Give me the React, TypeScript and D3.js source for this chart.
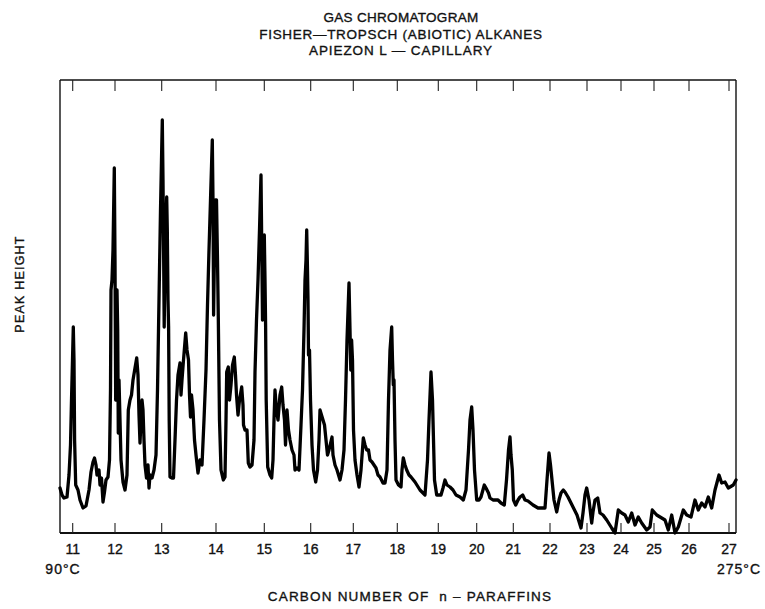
import React from "react";
import * as d3 from "d3";

// Chromatogram trace: retention time (min) vs detector peak height (arbitrary units)
const retentionMin: number[] = [
  0.0, 0.2, 0.4, 0.7, 0.9, 1.05, 1.15, 1.25, 1.33, 1.4, 1.46, 1.57, 1.8, 2.0, 2.3, 2.6, 2.9, 3.1, 3.3, 3.45,
  3.6, 3.7, 3.9, 4.0, 4.15, 4.3, 4.45, 4.6, 4.8, 4.95, 5.05, 5.1, 5.2, 5.3, 5.43, 5.5, 5.57, 5.63, 5.7, 5.77,
  5.83, 5.9, 6.0, 6.1, 6.3, 6.5, 6.7, 6.83, 7.0, 7.15, 7.3, 7.5, 7.67, 7.8, 7.9, 8.0, 8.1, 8.2, 8.3, 8.4,
  8.5, 8.65, 8.8, 8.9, 9.0, 9.2, 9.4, 9.6, 9.75, 9.85, 9.95, 10.05, 10.15, 10.23, 10.3, 10.36, 10.42, 10.5, 10.6, 10.67,
  10.73, 10.8, 10.86, 10.92, 11.0, 11.2, 11.35, 11.5, 11.65, 11.8, 12.0, 12.1, 12.2, 12.35, 12.57, 12.7, 12.85, 12.95, 13.05, 13.15,
  13.3, 13.45, 13.6, 13.8, 14.0, 14.2, 14.4, 14.6, 14.75, 14.9, 15.05, 15.23, 15.3, 15.36, 15.45, 15.55, 15.65, 15.75, 15.83, 15.95,
  16.1, 16.33, 16.5, 16.6, 16.67, 16.83, 16.95, 17.1, 17.25, 17.43, 17.55, 17.65, 17.8, 17.95, 18.17, 18.3, 18.35, 18.5, 18.7, 18.83,
  19.0, 19.2, 19.4, 19.5, 19.65, 19.8, 19.95, 20.1, 20.2, 20.25, 20.35, 20.43, 20.5, 20.56, 20.62, 20.77, 21.0, 21.17, 21.3, 21.4,
  21.5, 21.65, 21.8, 22.0, 22.17, 22.3, 22.45, 22.55, 22.7, 22.85, 23.0, 23.2, 23.4, 23.5, 23.7, 23.9, 24.1, 24.25, 24.4, 24.5,
  24.6, 24.67, 24.75, 24.8, 24.85, 24.95, 25.05, 25.2, 25.35, 25.57, 25.75, 25.9, 26.0, 26.15, 26.3, 26.45, 26.6, 26.75, 26.9, 27.2,
  27.3, 27.5, 27.7, 28.0, 28.2, 28.4, 28.55, 28.7, 28.9, 29.0, 29.08, 29.16, 29.25, 29.35, 29.5, 29.7, 29.9, 30.1, 30.33, 30.5,
  30.67, 30.85, 31.0, 31.2, 31.4, 31.6, 31.8, 32.0, 32.3, 32.5, 32.7, 32.85, 33.0, 33.17, 33.25, 33.33, 33.4, 33.5, 33.6, 33.85,
  34.1, 34.2, 34.33, 34.5, 34.67, 34.9, 35.1, 35.5, 36.0, 36.5, 36.75, 36.9, 37.1, 37.25, 37.35, 37.45, 37.67, 38.1, 38.3, 38.5,
  38.7, 39.0, 39.3, 39.6, 40.0, 40.33, 40.6, 40.85, 41.0, 41.17, 41.3, 41.45, 41.67, 41.9, 42.1, 42.43, 42.6, 42.85, 43.0, 43.3,
  43.8, 44.1, 44.43, 44.65, 44.85, 45.0, 45.1, 45.23, 45.35, 45.57, 45.8, 46.0, 46.27, 46.5, 46.8, 47.3, 47.8, 48.5, 48.7, 48.9,
  49.05, 49.2, 49.4, 49.67, 49.9, 50.1, 50.33, 50.5, 50.8, 51.2, 51.7, 52.1, 52.3, 52.5, 52.67, 52.9, 53.17, 53.3, 53.5, 53.77,
  54.0, 54.3, 54.67, 55.17, 55.5, 55.83, 56.17, 56.5, 56.83, 57.17, 57.5, 57.83, 58.17, 58.67, 59.0, 59.23, 59.67, 60.17, 60.5, 60.83,
  61.17, 61.5, 61.83, 62.33, 62.67, 63.1, 63.5, 63.83, 64.17, 64.5, 64.83, 65.17, 65.5, 65.9, 66.17, 66.5, 66.83, 67.33, 67.6,
];

const peakHeight: number[] = [
  45, 38, 35, 36, 58, 88, 133, 173, 206, 173, 93, 48, 43, 33, 25, 27, 43, 61, 71, 75,
  68, 58, 63, 48, 55, 31, 41, 53, 56, 73, 143, 243, 253, 283, 365, 273, 133, 233, 243, 203,
  100, 153, 113, 73, 51, 43, 58, 123, 133, 138, 153, 165, 175, 158, 118, 90, 113, 133, 123, 93,
  68, 55, 68, 45, 58, 55, 63, 78, 143, 203, 263, 323, 373, 413, 353, 283, 206, 273, 313, 336,
  303, 233, 206, 113, 56, 55, 55, 93, 133, 158, 170, 138, 153, 173, 200, 183, 173, 138, 116, 138,
  123, 93, 78, 60, 73, 68, 113, 163, 228, 283, 333, 393, 333, 218, 283, 333, 333, 273, 215, 113,
  63, 53, 56, 113, 161, 166, 133, 148, 168, 176, 158, 138, 118, 133, 146, 128, 108, 103, 103, 70,
  66, 68, 93, 161, 213, 253, 303, 358, 263, 213, 273, 298, 253, 208, 133, 66, 58, 55, 73, 113,
  143, 123, 113, 138, 146, 128, 113, 88, 123, 103, 93, 83, 78, 63, 65, 63, 108, 143, 203, 253,
  273, 303, 263, 233, 178, 183, 133, 88, 63, 51, 63, 93, 123, 118, 113, 108, 93, 78, 83, 96,
  78, 68, 63, 53, 63, 83, 133, 193, 250, 203, 163, 193, 173, 103, 73, 58, 46, 63, 95, 88,
  83, 83, 73, 71, 68, 65, 58, 56, 50, 50, 63, 133, 183, 206, 173, 148, 153, 93, 53, 48,
  46, 63, 75, 68, 63, 58, 56, 51, 43, 38, 73, 113, 161, 133, 93, 53, 38, 38, 45, 53,
  48, 46, 43, 38, 36, 33, 43, 83, 113, 126, 103, 63, 33, 33, 36, 48, 45, 40, 35, 33,
  33, 30, 28, 53, 83, 96, 78, 63, 33, 28, 33, 36, 38, 33, 32, 28, 25, 25, 53, 80,
  68, 53, 33, 21, 33, 40, 43, 41, 36, 28, 18, 5, 20, 38, 45, 33, 10, 21, 33, 35,
  20, 18, 13, 5, 0, 23, 20, 18, 11, 20, 8, 16, 10, 3, 6, 23, 18, 15, 13, 3,
  18, 0, 6, 23, 18, 16, 33, 23, 30, 26, 36, 25, 43, 58, 50, 51, 45, 48, 53,
];

// n-paraffin carbon numbers and their retention times (min)
const carbonNumbers: number[] = [11, 12, 13, 14, 15, 16, 17, 18, 19, 20, 21, 22, 23, 24, 25, 26, 27];
const carbonTimes: number[] = [1.27, 5.5, 10.17, 15.6, 20.43, 25.07, 29.33, 33.73, 37.83, 41.67, 45.33, 49.0, 52.7, 56.1, 59.4, 62.9, 66.9];

const titleLines: string[] = [
  "GAS CHROMATOGRAM",
  "FISHER—TROPSCH (ABIOTIC) ALKANES",
  "APIEZON L — CAPILLARY",
];
const titleSpacing: number[] = [0.3, 0.7, 0.9];
const xAxisTitle = "CARBON NUMBER OF  n – PARAFFINS";
const yAxisTitle = "PEAK HEIGHT";
const startTempLabel = "90°C";
const endTempLabel = "275°C";

const W = 765;
const H = 609;
const FONT = "'Liberation Sans', Arial, sans-serif";

export default function App() {
  const left = 60, right = 736, top = 80, bottom = 533;
  const x = d3.scaleLinear().domain([0, 67.6]).range([left, right]);
  const y = d3.scaleLinear().domain([0, 453]).range([bottom, top]);

  const pts: [number, number][] = retentionMin.map((t, i) => [t, peakHeight[i]]);
  const line = d3
    .line<[number, number]>()
    .x((d) => x(d[0]))
    .y((d) => y(d[1]))
    .curve(d3.curveLinear);

  const txt = { fill: "#111", stroke: "#111", strokeWidth: 0.35 };

  return (
    <div style={{ position: "fixed", left: 0, top: 0, background: "#fff" }}>
      <svg width={W} height={H} style={{ display: "block", background: "#fff" }} fontFamily={FONT}>
        {/* title */}
        {titleLines.map((s, i) => (
          <text key={s} x={401} y={22 + i * 16.7} textAnchor="middle" fontSize={13.5} letterSpacing={titleSpacing[i]} {...txt}>
            {s}
          </text>
        ))}

        {/* frame */}
        <line x1={left} x2={right} y1={top} y2={top} stroke="#111" strokeWidth={1.6} />
        <line x1={left} x2={left} y1={top} y2={bottom} stroke="#111" strokeWidth={1.4} />
        <line x1={right} x2={right} y1={top} y2={bottom} stroke="#111" strokeWidth={1.4} />
        <line x1={left} x2={right} y1={bottom} y2={bottom} stroke="#111" strokeWidth={2} />

        {/* ticks */}
        {carbonTimes.map((t, i) => (
          <g key={"t" + i}>
            <line x1={x(t)} x2={x(t)} y1={bottom} y2={bottom - 10} stroke="#222" strokeWidth={1.1} />
            <line x1={x(t)} x2={x(t)} y1={top} y2={top + 11} stroke="#222" strokeWidth={1.1} />
            <text x={x(t)} y={554} textAnchor="middle" fontSize={14} {...txt}>
              {carbonNumbers[i]}
            </text>
          </g>
        ))}

        {/* trace */}
        <path d={line(pts) || ""} fill="none" stroke="#000" strokeWidth={3.3} strokeLinejoin="round" strokeLinecap="round" />

        {/* temperature labels */}
        <text x={63} y={574} textAnchor="middle" fontSize={14} letterSpacing={1} {...txt}>
          {startTempLabel}
        </text>
        <text x={739} y={574} textAnchor="middle" fontSize={14} letterSpacing={1} {...txt}>
          {endTempLabel}
        </text>

        {/* axis titles */}
        <text x={410} y={601} textAnchor="middle" fontSize={13.5} letterSpacing={1.2} style={{ whiteSpace: "pre" }} {...txt}>
          {xAxisTitle}
        </text>
        <text
          transform="translate(24,284) rotate(-90)"
          textAnchor="middle"
          fontSize={12.5}
          letterSpacing={1.2}
          {...txt}
        >
          {yAxisTitle}
        </text>
      </svg>
    </div>
  );
}
